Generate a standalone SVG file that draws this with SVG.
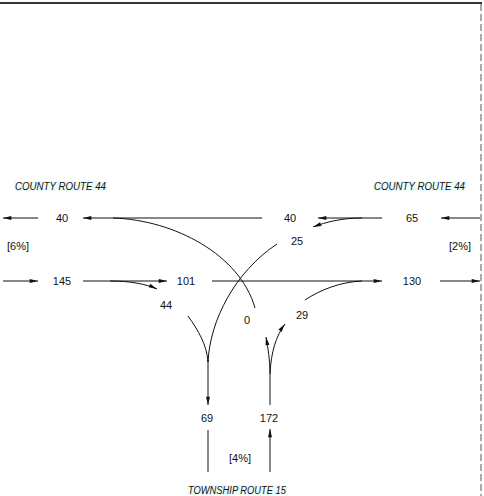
<svg xmlns="http://www.w3.org/2000/svg" width="484" height="496" viewBox="0 0 484 496">
<style>
.ln{fill:none;stroke:#111;stroke-width:1}
.ar{fill:none;stroke:#111;stroke-width:1;marker-end:url(#ah)}
.num{font-family:"Liberation Sans",Arial,sans-serif;font-size:11px;fill:#111;text-anchor:middle}
.rt{font-family:"Liberation Sans",Arial,sans-serif;font-size:10px;font-style:italic;fill:#111}
.hl{fill:#eefbfb}
</style>
<defs>
<marker id="ah" viewBox="0 0 10 6" refX="10" refY="3" markerWidth="9" markerHeight="5" markerUnits="userSpaceOnUse" orient="auto">
<path d="M0,0.6 L10,3 L0,5.4 Z" fill="#111"/>
</marker>
</defs>
<rect width="484" height="496" fill="#fff"/>
<g id="frame">
<line x1="0" y1="3" x2="482" y2="3" stroke="#333" stroke-width="2"/>
<line x1="481" y1="4" x2="481" y2="496" stroke="#555" stroke-width="1" stroke-dasharray="7 3"/>
</g>
<g id="connectors">
<line class="ar" x1="38" y1="218" x2="3" y2="218"/>
<line class="ar" x1="262" y1="218" x2="83" y2="218"/>
<line class="ar" x1="382" y1="218" x2="318" y2="218"/>
<path class="ar" d="M362,218 C342,218 326,222 313,227"/>
<line class="ar" x1="480" y1="218" x2="441" y2="218"/>
<line class="ar" x1="3" y1="281" x2="38" y2="281"/>
<line class="ar" x1="83" y1="281" x2="167" y2="281"/>
<path class="ar" d="M110,281 C130,281 146,284 157,289"/>
<line class="ar" x1="212" y1="281" x2="382" y2="281"/>
<line class="ar" x1="440" y1="281" x2="480" y2="281"/>
<path class="ln" d="M113,218 C175,220 240,255 255,308"/>
<path class="ln" d="M277,244 C235,272 210,320 208,362"/>
<path class="ln" d="M188,316 C198,330 207,345 208,362"/>
<line class="ar" x1="208" y1="360" x2="208" y2="405"/>
<line class="ln" x1="208" y1="430" x2="208" y2="472"/>
<line class="ar" x1="270" y1="472" x2="270" y2="429"/>
<line class="ln" x1="270" y1="405" x2="270" y2="374"/>
<path class="ar" d="M270,374 C270,360 268,348 266,337"/>
<path class="ar" d="M270,374 C271,352 276,336 285,324"/>
<path class="ln" d="M305,300 C320,290 340,282 362,281"/>
</g>
<g id="labels">
<g id="route-w"><rect class="hl" x="14" y="181" width="93" height="10"/><text class="rt" x="15" y="190" textLength="91" lengthAdjust="spacingAndGlyphs">COUNTY ROUTE 44</text></g>
<g id="route-e"><rect class="hl" x="373" y="181" width="93" height="10"/><text class="rt" x="374" y="190" textLength="91" lengthAdjust="spacingAndGlyphs">COUNTY ROUTE 44</text></g>
<g id="route-s"><rect class="hl" x="187" y="485" width="100" height="10"/><text class="rt" x="188" y="494" textLength="98" lengthAdjust="spacingAndGlyphs">TOWNSHIP ROUTE 15</text></g>
<g id="n-wb-out"><text class="num" x="62" y="222">40</text></g>
<g id="n-wb-thru"><text class="num" x="290" y="222">40</text></g>
<g id="n-wb-in"><text class="num" x="412" y="222">65</text></g>
<g id="n-eb-in"><text class="num" x="62" y="285">145</text></g>
<g id="n-eb-thru"><text class="num" x="186" y="285">101</text></g>
<g id="n-eb-out"><text class="num" x="412" y="285">130</text></g>
<g id="n-wb-left"><text class="num" x="297" y="245">25</text></g>
<g id="n-eb-right"><text class="num" x="166" y="309">44</text></g>
<g id="n-nb-left"><text class="num" x="247" y="324">0</text></g>
<g id="n-nb-right"><text class="num" x="302" y="319">29</text></g>
<g id="n-sb-out"><text class="num" x="207" y="422">69</text></g>
<g id="n-nb-in"><text class="num" x="269" y="422">172</text></g>
<g id="g-w"><text class="num" x="18" y="250" textLength="22">[6%]</text></g>
<g id="g-e"><text class="num" x="460" y="250" textLength="22">[2%]</text></g>
<g id="g-s"><text class="num" x="240" y="462" textLength="22">[4%]</text></g>
</g>
</svg>
